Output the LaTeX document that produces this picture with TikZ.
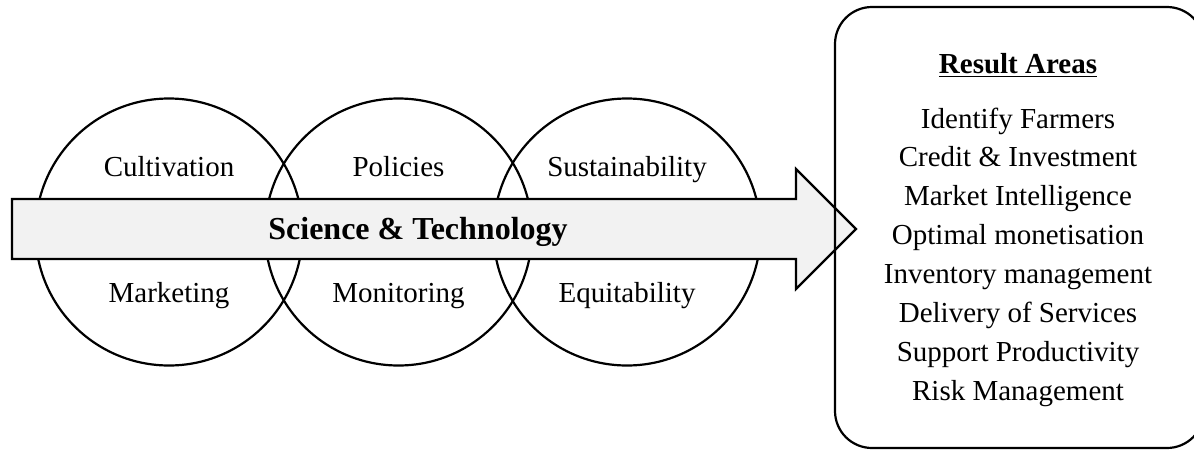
\documentclass[tikz,border=0pt]{standalone}
\usepackage{fontspec}
\setmainfont{Liberation Serif}
\definecolor{arrowgray}{RGB}{242,242,242}
\begin{document}
\begin{tikzpicture}[x=0.5pt,y=-0.5pt, line width=1.1pt,
  lbl/.style={font=\fontsize{14.5}{17}\selectfont, anchor=base, inner sep=0pt},
  ring/.style={circle, draw, minimum size=133.5pt, inner sep=0pt},
  resbox/.style={draw, rounded corners=18.5pt}]
\useasboundingbox (0,0) rectangle (1194,450);
% circles
\node[ring] (c1) at (169,232) {};
\node[ring] (c2) at (398.5,232) {};
\node[ring] (c3) at (627,232) {};
% arrow
\draw[fill=arrowgray] (12,199) -- (796,199) -- (796,169) -- (856,229) -- (796,289) -- (796,259) -- (12,259) -- cycle;
\node[font=\fontsize{16}{19}\selectfont\bfseries, anchor=base, inner sep=0pt] (st) at (418,239) {Science \& Technology};
% circle labels
\node[lbl] (l1) at (169,176) {Cultivation};
\node[lbl] (l2) at (398.5,176) {Policies};
\node[lbl] (l3) at (627,176) {Sustainability};
\node[lbl] (l4) at (169,302.5) {Marketing};
\node[lbl] (l5) at (398.5,302.5) {Monitoring};
\node[lbl] (l6) at (627,302.5) {Equitability};
% result box (its right side runs past the picture's edge)
\coordinate (resne) at (1204,7);
\coordinate (resnw) at (835,7);
\coordinate (ressw) at (835,448);
\coordinate (resse) at (1204,448);
\begin{scope}
  \clip (0,0) rectangle (1194,450);
  \draw[resbox] ([yshift=-18.5pt]resne) -- (resne) -- (resnw) -- (ressw) -- (resse) -- ([yshift=18.5pt]resse);
\end{scope}
\node[lbl, font=\fontsize{14.5}{17}\selectfont\bfseries] (rt) at (1018,73) {\underline{Result Areas}};
\foreach \t [count=\i from 0] in {Identify Farmers, Credit \& Investment, Market Intelligence, Optimal monetisation, Inventory management, Delivery of Services, Support Productivity, Risk Management}
  \node[lbl] (r\i) at (1018,128+38.86*\i) {\t};
\end{tikzpicture}
\end{document}
